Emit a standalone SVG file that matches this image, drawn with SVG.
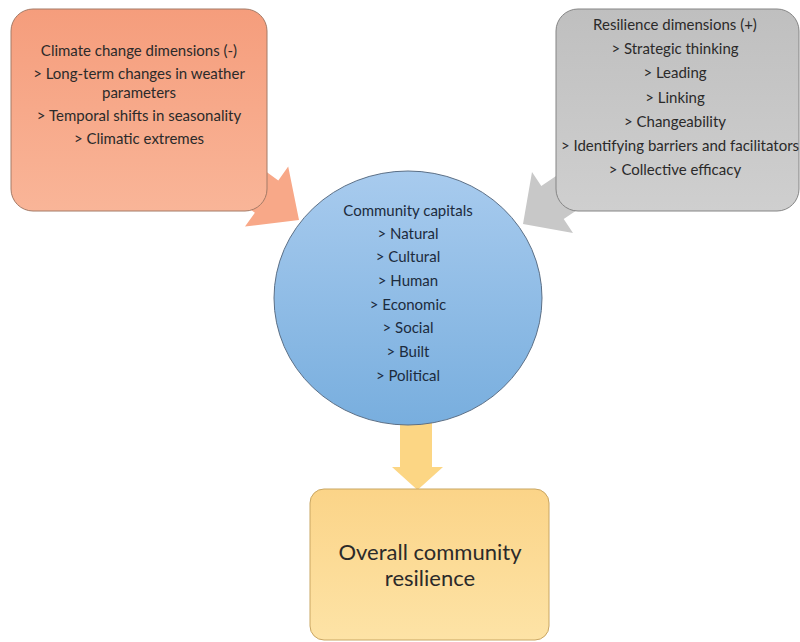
<svg xmlns="http://www.w3.org/2000/svg" width="800" height="642" viewBox="0 0 800 642">
  <defs>
    <linearGradient id="gClimate" x1="0" y1="0" x2="0" y2="1">
      <stop offset="0" stop-color="#f59d7c"/>
      <stop offset="1" stop-color="#f9b598"/>
    </linearGradient>
    <linearGradient id="gResil" x1="0" y1="0" x2="0" y2="1">
      <stop offset="0" stop-color="#bfbfbf"/>
      <stop offset="1" stop-color="#cfcfcf"/>
    </linearGradient>
    <linearGradient id="gCap" x1="0" y1="0" x2="0" y2="1">
      <stop offset="0" stop-color="#a8cbee"/>
      <stop offset="1" stop-color="#78aede"/>
    </linearGradient>
    <linearGradient id="gOverall" x1="0" y1="0" x2="0" y2="1">
      <stop offset="0" stop-color="#fbd488"/>
      <stop offset="1" stop-color="#fde3a6"/>
    </linearGradient>
    <style>
      text { font-family: Lato, "Liberation Sans", Arial, sans-serif; text-anchor: middle; }
      .small { font-size: 15px; }
      .big { font-size: 22px; }
      .dark { fill: #2b2a2a; }
      .navy { fill: #1c2b3d; }
    </style>
  </defs>

  <!-- block arrows feeding the capitals and the outcome -->
  <g id="connectors">
    <polygon fill="#f8a888" points="229.7,145.3 278.3,180.4 288.2,166.6 299,220 245,226.6 254.9,212.8 206.3,177.7"/>
    <polygon fill="#c8c8c8" points="591.1,152.3 541.3,185.9 532,172 523,224 573,233 563.7,219.1 613.5,185.5"/>
    <polygon fill="#fcd684" points="400,410 432,410 432,467 443,467 417.5,490 392,467 400,467"/>
  </g>

  <g id="climate">
    <rect x="11" y="9" width="256" height="202" rx="22" fill="url(#gClimate)" stroke="#a47a66" stroke-width="1"/>
    <text class="small dark" x="139" y="56">Climate change dimensions (-)</text>
    <text class="small dark" x="139" y="79">&gt; Long-term changes in weather</text>
    <text class="small dark" x="139" y="98">parameters</text>
    <text class="small dark" x="139" y="121">&gt; Temporal shifts in seasonality</text>
    <text class="small dark" x="139" y="144">&gt; Climatic extremes</text>
  </g>

  <g id="resilience">
    <rect x="556" y="9" width="243" height="202" rx="22" fill="url(#gResil)" stroke="#858585" stroke-width="1"/>
    <text class="small dark" x="675" y="30">Resilience dimensions (+)</text>
    <text class="small dark" x="675" y="54">&gt; Strategic thinking</text>
    <text class="small dark" x="675" y="78">&gt; Leading</text>
    <text class="small dark" x="675" y="103">&gt; Linking</text>
    <text class="small dark" x="675" y="127">&gt; Changeability</text>
    <text class="small dark" x="680" y="151">&gt; Identifying barriers and facilitators</text>
    <text class="small dark" x="675" y="175">&gt; Collective efficacy</text>
  </g>

  <g id="capitals">
    <ellipse cx="408" cy="298" rx="134" ry="127" fill="url(#gCap)" stroke="#5b6f86" stroke-width="1"/>
    <text class="small navy" x="408" y="216">Community capitals</text>
    <text class="small navy" x="408" y="239">&gt; Natural</text>
    <text class="small navy" x="408" y="262">&gt; Cultural</text>
    <text class="small navy" x="408" y="286">&gt; Human</text>
    <text class="small navy" x="408" y="310">&gt; Economic</text>
    <text class="small navy" x="408" y="333">&gt; Social</text>
    <text class="small navy" x="408" y="357">&gt; Built</text>
    <text class="small navy" x="408" y="381">&gt; Political</text>
  </g>

  <g id="overall">
    <rect x="310" y="489" width="239" height="151" rx="14" fill="url(#gOverall)" stroke="#c9a663" stroke-width="1"/>
    <text class="big dark" x="430" y="560">Overall community</text>
    <text class="big dark" x="430" y="586">resilience</text>
  </g>
</svg>
